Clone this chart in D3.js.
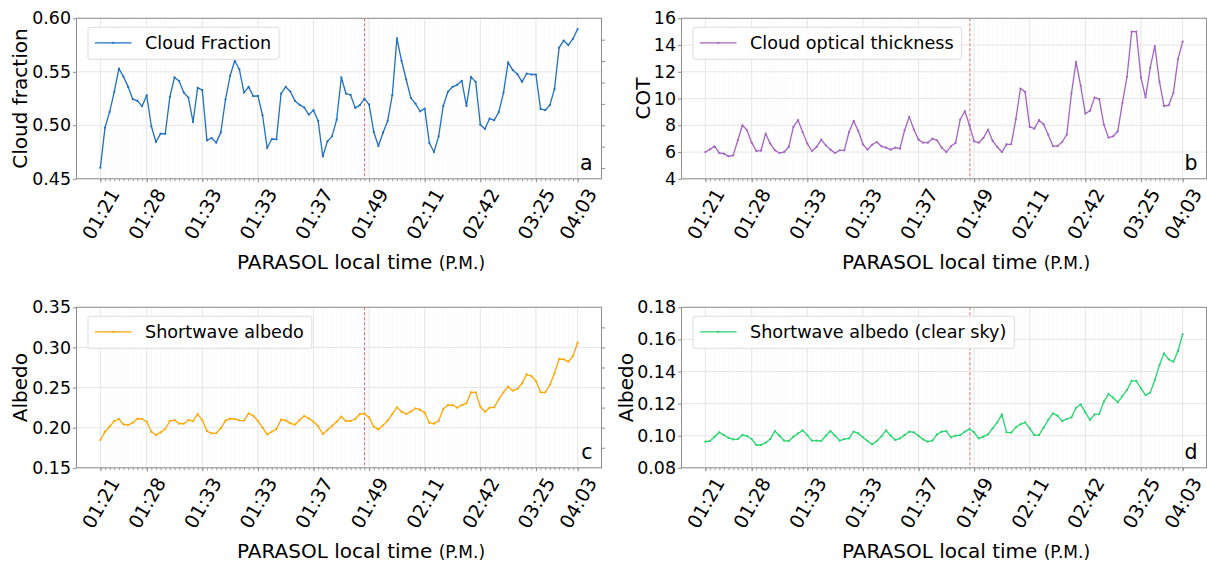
<!DOCTYPE html>
<html><head><meta charset="utf-8">
<script src="https://cdn.jsdelivr.net/npm/d3@7"></script>
<style>
body{margin:0;background:#fff}
svg{display:block}
text{font-family:"DejaVu Sans",sans-serif;fill:#000}
</style>
</head><body>
<svg id="chart" width="1207" height="563"></svg>
<script>
// ---------- data ----------
const timeLabels = ["01:21","01:28","01:33","01:33","01:37","01:49","02:11","02:42","03:25","04:03"];
const tickIndex  = [0,10,22,34,46,58,70,82,94,103];
const eventIndex = 57;

const cloudFraction = [0.4603,0.4978,0.5125,0.5313,0.5531,0.5453,0.5359,0.5244,0.5228,0.5178,
0.5281,0.4991,0.4844,0.4922,0.4919,0.5266,0.5447,0.5413,0.5306,0.5259,
0.5031,0.535,0.5328,0.4859,0.4881,0.4838,0.4934,0.5241,0.5463,0.5603,
0.5522,0.5306,0.5359,0.5272,0.5275,0.5094,0.4788,0.4872,0.4869,0.5297,
0.5359,0.5316,0.5228,0.5191,0.5166,0.51,0.5141,0.5041,0.4709,0.485,
0.4897,0.5053,0.5447,0.5297,0.5284,0.5163,0.5188,0.525,0.5194,0.4938,
0.4806,0.4931,0.5041,0.5281,0.5813,0.5603,0.5428,0.5256,0.5203,0.5131,
0.5156,0.4834,0.475,0.4897,0.5181,0.5313,0.5359,0.5378,0.5416,0.5181,
0.5453,0.5406,0.5006,0.4966,0.5063,0.5047,0.5125,0.5306,0.5588,0.5516,
0.5478,0.5406,0.5484,0.5475,0.5475,0.5153,0.5141,0.5188,0.5338,0.5725,
0.5791,0.575,0.5809,0.59];

const cot = [6.0,6.2,6.43,5.93,5.88,5.68,5.75,6.88,8.0,7.63,
6.7,6.08,6.1,7.38,6.63,6.13,5.93,6.0,6.38,7.88,
8.38,7.5,6.63,6.08,6.38,6.93,6.5,6.18,5.93,6.13,
6.13,7.5,8.33,7.58,6.58,6.18,6.55,6.75,6.43,6.33,
6.18,6.33,6.25,7.63,8.63,7.68,6.93,6.7,6.7,7.0,
6.88,6.33,6.0,6.43,6.68,8.43,9.05,8.0,6.8,6.7,
7.05,7.68,6.83,6.38,6.0,6.58,6.58,8.45,10.75,10.5,
7.88,7.75,8.38,8.08,7.3,6.45,6.45,6.75,7.3,10.38,
12.75,10.95,8.88,9.08,10.08,9.95,8.05,7.08,7.18,7.55,
9.68,11.63,15.0,15.0,11.58,10.08,12.3,13.93,11.25,9.43,
9.5,10.43,12.95,14.25];

const albedo = [0.1846,0.195,0.2012,0.2083,0.2108,0.2041,0.2033,0.2062,0.2112,0.2108,
0.2074,0.195,0.1908,0.1941,0.1983,0.2083,0.2095,0.205,0.205,0.2095,
0.2083,0.217,0.2095,0.1958,0.1929,0.1933,0.1991,0.2087,0.2112,0.2108,
0.2091,0.2087,0.2179,0.2149,0.2083,0.2,0.1916,0.195,0.1983,0.21,
0.2091,0.2054,0.2037,0.2095,0.2145,0.2116,0.2074,0.202,0.1921,0.197,
0.202,0.2074,0.2137,0.2083,0.2083,0.2108,0.217,0.2174,0.2128,0.2012,
0.1979,0.2029,0.2087,0.217,0.2253,0.2199,0.217,0.2199,0.2241,0.2224,
0.2187,0.2062,0.205,0.2083,0.2232,0.2282,0.2282,0.2249,0.2282,0.2303,
0.244,0.244,0.2261,0.2199,0.2249,0.2253,0.2357,0.244,0.2511,0.2461,
0.2482,0.2552,0.2665,0.2644,0.2581,0.244,0.244,0.2532,0.2677,0.2856,
0.2852,0.2823,0.2893,0.3059];

const albedoClear = [0.0963,0.0967,0.0994,0.1021,0.1004,0.0987,0.0977,0.0979,0.1004,0.0998,
0.0979,0.0942,0.0942,0.0956,0.0979,0.1029,0.1,0.0969,0.0967,0.0994,
0.1014,0.1033,0.1004,0.0969,0.0969,0.0967,0.1,0.1029,0.1,0.0969,
0.0979,0.0983,0.1025,0.1014,0.099,0.0967,0.0946,0.0967,0.0996,0.1033,
0.1,0.0973,0.0983,0.1004,0.1025,0.1021,0.1,0.0977,0.0963,0.0969,
0.1008,0.1025,0.1029,0.099,0.1,0.1004,0.1025,0.1041,0.1021,0.0983,
0.0994,0.1008,0.1046,0.1083,0.1133,0.1021,0.1019,0.1052,0.1071,0.1083,
0.1046,0.1004,0.1004,0.105,0.1098,0.1139,0.1125,0.1091,0.1104,0.1114,
0.1174,0.1195,0.1145,0.1098,0.1133,0.1135,0.1212,0.126,0.1237,0.1208,
0.1247,0.1285,0.1341,0.1341,0.1295,0.1253,0.1268,0.1347,0.144,0.1513,
0.1476,0.1461,0.1528,0.1632];

const seriesNames = ["Cloud Fraction","Cloud optical thickness","Shortwave albedo","Shortwave albedo (clear sky)"];
const yTitles = ["Cloud fraction","COT","Albedo","Albedo"];
const panelLetters = ["a","b","c","d"];
const yTickValues = [[0.45,0.50,0.55,0.60],[4,6,8,10,12,14,16],[0.15,0.20,0.25,0.30,0.35],[0.08,0.10,0.12,0.14,0.16,0.18]];
const rightTickValues = [[0.46,0.48,0.50,0.52,0.54,0.56,0.58],[],[0.175,0.20,0.225,0.25,0.275,0.30,0.325],[]];

// ---------- layout ----------
const panels = [
  {values: cloudFraction, color:"#1f6fc5", dom:[0.45,0.60], fmt:d3.format(".2f"), left:76.5, top:18.3, bottom:178.8, ylabX:27, evShift:0},
  {values: cot,           color:"#a463c4", dom:[4,16],      fmt:d3.format("d"),   left:681.5, top:18.3, bottom:178.8, ylabX:650, evShift:0.45},
  {values: albedo,        color:"#ffa500", dom:[0.15,0.35], fmt:d3.format(".2f"), left:76.5, top:307.3, bottom:467.8, ylabX:27, evShift:0},
  {values: albedoClear,   color:"#25d56f", dom:[0.08,0.18], fmt:d3.format(".2f"), left:681.5, top:307.3, bottom:467.8, ylabX:633, evShift:0.45}
];
const W = 525;
const svg = d3.select("#chart");

panels.forEach((p, k) => {
  const n = p.values.length;
  const x = d3.scaleLinear().domain([-0.05*(n-1), (n-1)*1.05]).range([p.left, p.left + W]);
  const y = d3.scaleLinear().domain(p.dom).range([p.bottom, p.top]);
  const g = svg.append("g");
  const right = p.left + W;

  // minor vertical grid
  g.append("g").selectAll("line").data(d3.range(n)).join("line")
    .attr("x1", d => x(d)).attr("x2", d => x(d)).attr("y1", p.top).attr("y2", p.bottom)
    .attr("stroke", "#f8f8f8").attr("stroke-width", 0.7);
  // major grid
  g.append("g").selectAll("line").data(tickIndex).join("line")
    .attr("x1", d => x(d)).attr("x2", d => x(d)).attr("y1", p.top).attr("y2", p.bottom)
    .attr("stroke", "#e6e6e6").attr("stroke-width", 1);
  g.append("g").selectAll("line").data(yTickValues[k]).join("line")
    .attr("x1", p.left).attr("x2", right).attr("y1", d => y(d)).attr("y2", d => y(d))
    .attr("stroke", "#e6e6e6").attr("stroke-width", 1);

  // event line
  const ex = x(eventIndex) + p.evShift;
  g.append("line").attr("x1", ex).attr("x2", ex)
    .attr("y1", p.top).attr("y2", p.bottom)
    .attr("stroke", "#ec5a55").attr("stroke-opacity", 0.9).attr("stroke-width", 1).attr("stroke-dasharray", "3,2");

  // series line
  const line = d3.line().x((d, i) => x(i)).y(d => y(d));
  g.append("path").datum(p.values).attr("d", line)
    .attr("fill", "none").attr("stroke", p.color).attr("stroke-width", 1.3).attr("stroke-linejoin", "round");
  g.append("g").selectAll("circle").data(p.values).join("circle")
    .attr("cx", (d, i) => x(i)).attr("cy", d => y(d)).attr("r", 1.1).attr("fill", p.color);

  // frame
  g.append("rect").attr("x", p.left).attr("y", p.top).attr("width", W).attr("height", p.bottom - p.top)
    .attr("fill", "none").attr("stroke", "#8f8f8f").attr("stroke-width", 1);

  // x minor ticks
  const xMinor = g.append("g").attr("transform", `translate(0,${p.bottom})`)
    .call(d3.axisBottom(x).tickValues(d3.range(n)).tickSize(2.5).tickFormat(""));
  xMinor.select(".domain").remove();
  xMinor.selectAll("line").attr("stroke", "#8f8f8f").attr("stroke-width", 0.8);

  // x major ticks + labels
  const xAx = g.append("g").attr("transform", `translate(0,${p.bottom})`)
    .call(d3.axisBottom(x).tickValues(tickIndex).tickSize(3.5)
      .tickFormat(d => timeLabels[tickIndex.indexOf(d)]));
  xAx.select(".domain").remove();
  xAx.selectAll("line").attr("stroke", "#8f8f8f");
  xAx.selectAll("text")
    .attr("y", null).attr("dy", "0.35em").attr("text-anchor", "middle")
    .attr("transform", "translate(0,35.2) rotate(-60)")
    .style("font-family", "DejaVu Sans").style("font-size", "19px").attr("fill", "#000");

  // y axis left
  const yAx = g.append("g").attr("transform", `translate(${p.left},0)`)
    .call(d3.axisLeft(y).tickValues(yTickValues[k]).tickSize(3.5).tickPadding(2).tickFormat(p.fmt));
  yAx.select(".domain").remove();
  yAx.selectAll("line").attr("stroke", "#8f8f8f");
  yAx.selectAll("text").style("font-family", "DejaVu Sans").style("font-size", "17.4px").attr("fill", "#000");

  // y ticks right
  if (rightTickValues[k].length) {
    const yR = g.append("g").attr("transform", `translate(${right},0)`)
      .call(d3.axisRight(y).tickValues(rightTickValues[k]).tickSize(3.5).tickFormat(""));
    yR.select(".domain").remove();
    yR.selectAll("line").attr("stroke", "#8f8f8f");
  }

  // legend
  const lg = g.append("g").attr("transform", `translate(${p.left + 11.5},${p.top + 9})`);
  const lbox = lg.append("rect").attr("x", 0).attr("y", 0).attr("height", 32).attr("rx", 2)
    .attr("fill", "#fff").attr("fill-opacity", 0.85).attr("stroke", "#dcdcdc").attr("stroke-width", 1);
  lg.append("line").attr("x1", 7).attr("x2", 43.5).attr("y1", 15.5).attr("y2", 15.5)
    .attr("stroke", p.color).attr("stroke-width", 1.3);
  lg.append("circle").attr("cx", 25.2).attr("cy", 15.5).attr("r", 1.1).attr("fill", p.color);
  const lt = lg.append("text").attr("x", 57).attr("y", 22).style("font-size", "17.6px").text(seriesNames[k]);
  const tw = lt.node().getComputedTextLength();
  lbox.attr("width", 57 + tw + 8);

  // panel letter
  g.append("text").attr("x", right - 9).attr("y", p.bottom - 8.5).attr("text-anchor", "end")
    .style("font-size", "20.5px").text(panelLetters[k]);

  // y title
  g.append("text").attr("transform", `translate(${p.ylabX},${(p.top + p.bottom) / 2}) rotate(-90)`)
    .attr("text-anchor", "middle").style("font-size", "20px").text(yTitles[k]);

  // x title
  const xt = g.append("text").attr("x", p.left + 160.5).attr("y", p.bottom + 90).style("font-size", "20px");
  xt.append("tspan").text("PARASOL local time ");
  xt.append("tspan").style("font-size", "17px").text("(P.M.)");
});
</script>
</body></html>
